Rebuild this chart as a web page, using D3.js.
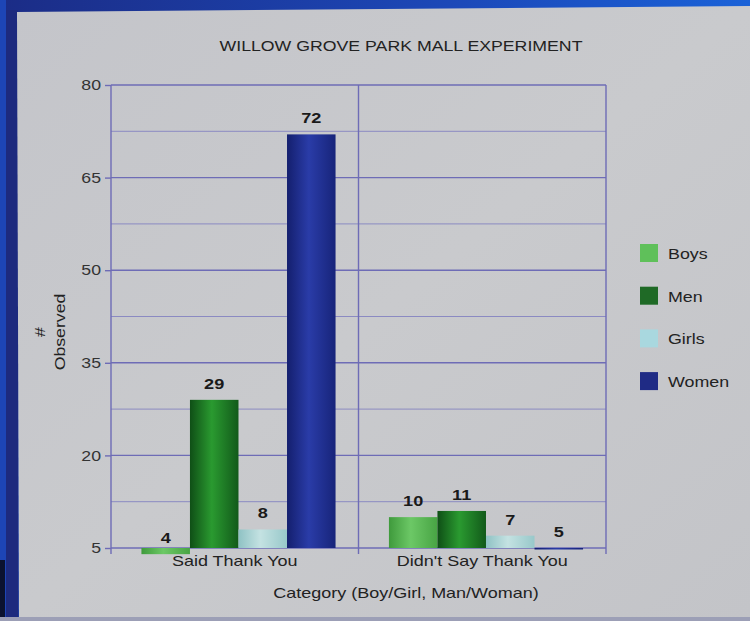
<!DOCTYPE html>
<html>
<head>
<meta charset="utf-8">
<script src="https://cdn.jsdelivr.net/npm/d3@7"></script>
<style>
  body { margin: 0; background: #1d3a9c; }
  svg { display: block; font-family: "Liberation Sans", Arial, sans-serif; }
</style>
</head>
<body>
<svg width="750" height="621"></svg>
<script>
var width = 750;
var height = 621;
var margin = {left: 111, right: 144, top: 85, bottom: 73};

var categories = ["Said Thank You", "Didn't Say Thank You"];
var series = ["Boys", "Men", "Girls", "Women"];
var boys = [4, 10];
var men = [29, 11];
var girls = [8, 7];
var women = [72, 5];
var yTicks = [5, 20, 35, 50, 65, 80];
var yGrid = [12.5, 27.5, 42.5, 57.5, 72.5];

var colors = {
  Boys:  ["#3f9a3c", "#6cc866", "#48a444"],
  Men:   ["#0f4f16", "#2a9a30", "#125a1a"],
  Girls: ["#8fc2c4", "#c4e2e2", "#98c8ca"],
  Women: ["#141f6e", "#2a3ca8", "#17247a"]
};
var legendColors = {Boys: "#5fc05a", Men: "#1f6a26", Girls: "#a9d8df", Women: "#1f2b85"};

var values = {Boys: boys, Men: men, Girls: girls, Women: women};
var rows = [];
series.forEach(function(s) {
  categories.forEach(function(c, i) {
    rows.push({series: s, category: c, value: values[s][i]});
  });
});

// the projected slide is a little wider than the fonts, so stretch text
function stretch(sel, f) {
  sel.each(function() {
    var w = this.getComputedTextLength();
    d3.select(this).attr('textLength', w * f).attr('lengthAdjust', 'spacingAndGlyphs');
  });
}

var svg = d3.select('svg');
var defs = svg.append('defs');

// frame: blue border and the grey projected slide
var topBand = defs.append('linearGradient').attr('id', 'topband');
topBand.append('stop').attr('offset', '0%').attr('stop-color', '#1b2c86');
topBand.append('stop').attr('offset', '60%').attr('stop-color', '#1c48b8');
topBand.append('stop').attr('offset', '100%').attr('stop-color', '#1a62d8');
svg.append('rect').attr('width', width).attr('height', 14).attr('fill', 'url(#topband)');
svg.append('rect').attr('x', 0).attr('y', 0).attr('width', 6).attr('height', height).attr('fill', '#1d45b6');
svg.append('rect').attr('x', 6).attr('y', 10).attr('width', 12).attr('height', height).attr('fill', '#1d2a7e');
svg.append('rect').attr('x', 0).attr('y', 560).attr('width', 5).attr('height', 61).attr('fill', '#0b1230');

var panelGrad = defs.append('linearGradient').attr('id', 'panel')
  .attr('x1', '0%').attr('y1', '0%').attr('x2', '100%').attr('y2', '100%');
panelGrad.append('stop').attr('offset', '0%').attr('stop-color', '#c4c5ca');
panelGrad.append('stop').attr('offset', '50%').attr('stop-color', '#c9cacd');
panelGrad.append('stop').attr('offset', '100%').attr('stop-color', '#c3c4c8');
svg.append('path')
  .attr('d', 'M17,12 L750,6 L750,617 L19,618 Z')
  .attr('fill', 'url(#panel)');
svg.append('rect').attr('x', 0).attr('y', 617).attr('width', width).attr('height', 4).attr('fill', '#9c9fb6');

// bar gradients (cylinder look)
series.forEach(function(s) {
  var g = defs.append('linearGradient').attr('id', 'g' + s);
  g.append('stop').attr('offset', '0%').attr('stop-color', colors[s][0]);
  g.append('stop').attr('offset', '45%').attr('stop-color', colors[s][1]);
  g.append('stop').attr('offset', '100%').attr('stop-color', colors[s][2]);
});

var xScale = d3.scaleBand().domain(categories)
  .range([margin.left, width - margin.right]).padding(0);
var xInner = d3.scaleBand().domain(series)
  .range([0, xScale.bandwidth()]).paddingInner(0).paddingOuter(0.55).align(0.57);
var yScale = d3.scaleLinear().domain([5, 80])
  .range([height - margin.bottom, margin.top]);

var gridColor = "#6e6cb6";

// minor gridlines
svg.append('g').selectAll('line')
  .data(yGrid).enter().append('line')
  .attr('x1', margin.left).attr('x2', width - margin.right)
  .attr('y1', function(d) { return yScale(d); })
  .attr('y2', function(d) { return yScale(d); })
  .attr('stroke', '#8b8ac2').attr('stroke-width', 1);

// major gridlines
svg.append('g').selectAll('line')
  .data(yTicks).enter().append('line')
  .attr('x1', margin.left).attr('x2', width - margin.right)
  .attr('y1', function(d) { return yScale(d); })
  .attr('y2', function(d) { return yScale(d); })
  .attr('stroke', gridColor).attr('stroke-width', 1.4);

// vertical category separators
var xEdges = [margin.left].concat(categories.map(function(c) { return xScale(c) + xScale.bandwidth(); }));
svg.append('g').selectAll('line')
  .data(xEdges).enter().append('line')
  .attr('x1', function(d) { return d; }).attr('x2', function(d) { return d; })
  .attr('y1', margin.top).attr('y2', height - margin.bottom + 6)
  .attr('stroke', gridColor).attr('stroke-width', 1.4);

// y axis
var axisLeft = d3.axisLeft(yScale).tickValues(yTicks).tickSize(6).tickPadding(4);
var yAxis = svg.append('g')
  .attr('transform', 'translate(' + margin.left + ',0)')
  .call(axisLeft);
yAxis.select('.domain').remove();
yAxis.selectAll('line').attr('stroke', gridColor).attr('stroke-width', 1.4);
yAxis.selectAll('text').attr('font-size', 14.5).attr('fill', '#333')
  .attr('font-family', '"Liberation Sans", Arial, sans-serif')
  .call(stretch, 1.22);

// x axis labels
var axisBottom = d3.axisBottom(xScale).tickSize(0).tickPadding(8);
var xAxis = svg.append('g')
  .attr('transform', 'translate(0,' + (height - margin.bottom) + ')')
  .call(axisBottom);
xAxis.select('.domain').remove();
xAxis.selectAll('text').attr('font-size', 14.5).attr('fill', '#222')
  .attr('font-family', '"Liberation Sans", Arial, sans-serif')
  .call(stretch, 1.24);

// bars
function barX(d) { return xScale(d.category) + xInner(d.series); }
svg.append('g').selectAll('rect')
  .data(rows).enter().append('rect')
  .attr('x', barX)
  .attr('width', xInner.bandwidth())
  .attr('y', function(d) { return Math.min(yScale(d.value), yScale(5)); })
  .attr('height', function(d) { return Math.max(Math.abs(yScale(5) - yScale(d.value)), 1.5); })
  .attr('fill', function(d) { return 'url(#g' + d.series + ')'; });

// value labels
svg.append('g').selectAll('text')
  .data(rows).enter().append('text')
  .attr('x', function(d) { return barX(d) + xInner.bandwidth() / 2; })
  .attr('y', function(d) { return d.value < 5 ? yScale(5) - 5 : yScale(d.value) - 11; })
  .attr('text-anchor', 'middle')
  .attr('font-size', 14.5).attr('font-weight', 'bold').attr('fill', '#1a1a1a')
  .text(function(d) { return d.value; })
  .call(stretch, 1.25);

// title
svg.append('text')
  .attr('x', 401).attr('y', 51)
  .attr('text-anchor', 'middle')
  .attr('font-size', 15).attr('fill', '#222')
  .text('WILLOW GROVE PARK MALL EXPERIMENT')
  .call(stretch, 1.18);

// x axis title
svg.append('text')
  .attr('x', 406).attr('y', 598)
  .attr('text-anchor', 'middle')
  .attr('font-size', 14.5).attr('fill', '#222')
  .text('Category (Boy/Girl, Man/Woman)')
  .call(stretch, 1.24);

// y axis title (two lines)
var yTitle = svg.append('text')
  .attr('transform', 'translate(45,332) rotate(-90)')
  .attr('text-anchor', 'middle')
  .attr('font-size', 14.5).attr('fill', '#222');
yTitle.append('tspan').attr('x', 0).attr('dy', 0).text('#');
yTitle.append('tspan').attr('x', 0).attr('dy', 20).text('Observed');
yTitle.selectAll('tspan').call(stretch, 1.22);

// legend
var legend = svg.append('g').attr('transform', 'translate(640,244)');
var legendItem = legend.selectAll('g')
  .data(series).enter().append('g')
  .attr('transform', function(d, i) { return 'translate(0,' + (i * 42.7) + ')'; });
legendItem.append('rect')
  .attr('width', 18).attr('height', 18)
  .attr('fill', function(d) { return legendColors[d]; });
legendItem.append('text')
  .attr('x', 28).attr('y', 15)
  .attr('font-size', 15.5).attr('fill', '#222')
  .text(function(d) { return d; })
  .call(stretch, 1.15);
</script>
</body>
</html>
